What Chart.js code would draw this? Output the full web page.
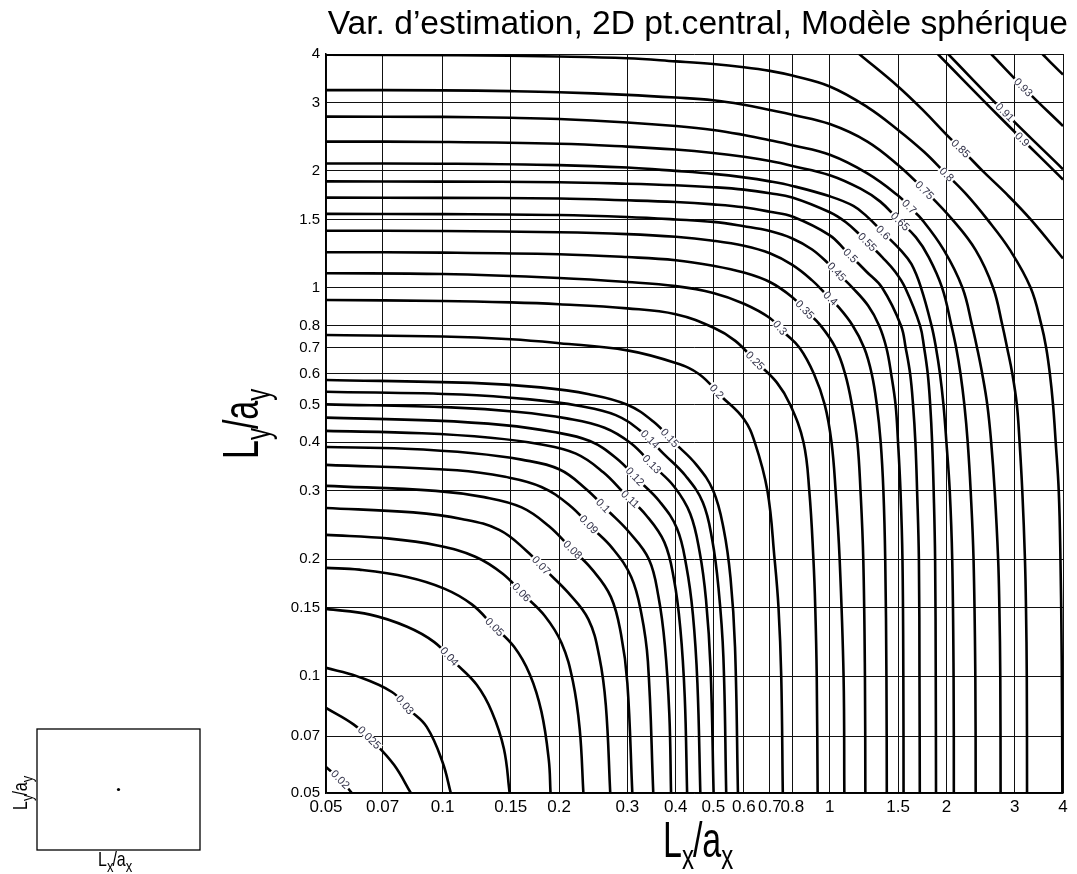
<!DOCTYPE html>
<html>
<head>
<meta charset="utf-8">
<script src="https://cdn.jsdelivr.net/npm/chart.js@4.4.1/dist/chart.umd.min.js"></script>
<style>
html,body{margin:0;padding:0;background:#fff;}
#wrap{position:relative;width:1077px;height:874px;overflow:hidden;}
#main{position:absolute;left:0;top:0;}
#inset{position:absolute;left:0;top:700px;}
</style>
</head>
<body>
<div id="wrap">
<canvas id="main" width="1077" height="874"></canvas>
<canvas id="inset" width="240" height="174"></canvas>
</div>
<script>
// ---------------- DATA ----------------
const chartTitle = "Var. d\u2019estimation, 2D pt.central, Mod\u00e8le sph\u00e9rique";

const xTickValues = [0.05,0.07,0.1,0.15,0.2,0.3,0.4,0.5,0.6,0.7,0.8,1,1.5,2,3,4];
const xTickLabels = ['0.05','0.07','0.1','0.15','0.2','0.3','0.4','0.5','0.6','0.7','0.8','1','1.5','2','3','4'];
const yTickValues = [0.05,0.07,0.1,0.15,0.2,0.3,0.4,0.5,0.6,0.7,0.8,1,1.5,2,3,4];
const yTickLabels = ['0.05','0.07','0.1','0.15','0.2','0.3','0.4','0.5','0.6','0.7','0.8','1','1.5','2','3','4'];

// Contour lines, upper-left branch [Lx/ax, Ly/ay] from the left/top edge to the diagonal
// (the chart is symmetric about the diagonal; the other branch is the same readings with axes swapped)
const c0020 = [[0.05,0.0583],[0.0543,0.0543]];
const c0025 = [[0.05,0.0828],[0.059,0.075],[0.067,0.067]];
const c0030 = [[0.05,0.105],[0.06,0.1],[0.074,0.091],[0.082,0.082]];
const c0040 = [[0.05,0.149],[0.065,0.144],[0.081,0.134],[0.095,0.1225],[0.108,0.108]];
const c0050 = [[0.05,0.19],[0.061,0.188],[0.081,0.18],[0.101,0.168],[0.119,0.153],[0.135,0.135]];
const c0060 = [[0.05,0.231],[0.073,0.226],[0.097,0.217],[0.1215,0.203],[0.143,0.1835],[0.162,0.162]];
const c0070 = [[0.05,0.271],[0.084,0.264],[0.112,0.254],[0.14,0.238],[0.164,0.211],[0.186,0.186]];
const c0080 = [[0.05,0.309],[0.096,0.3],[0.128,0.289],[0.16,0.272],[0.188,0.2435],[0.214,0.214]];
const c0090 = [[0.05,0.35],[0.109,0.339],[0.145,0.326],[0.18,0.307],[0.213,0.275],[0.242,0.242]];
const c0100 = [[0.05,0.389],[0.08,0.385],[0.12,0.375],[0.16,0.361],[0.2,0.341],[0.235,0.303],[0.267,0.267]];
const c0110 = [[0.05,0.428],[0.0885,0.422],[0.133,0.411],[0.177,0.396],[0.221,0.374],[0.26,0.335],[0.295,0.295]];
const c0120 = [[0.05,0.463],[0.096,0.455],[0.144,0.443],[0.192,0.426],[0.24,0.403],[0.282,0.363],[0.32,0.32]];
const c0130 = [[0.05,0.501],[0.105,0.492],[0.157,0.479],[0.209,0.461],[0.262,0.436],[0.307,0.397],[0.349,0.349]];
const c0140 = [[0.05,0.54],[0.112,0.531],[0.168,0.516],[0.224,0.497],[0.28,0.47],[0.328,0.424],[0.373,0.373]];
const c0150 = [[0.05,0.579],[0.119,0.569],[0.179,0.554],[0.239,0.532],[0.3,0.5],[0.35,0.4525],[0.398,0.398]];
const c0200 = [[0.05,0.756],[0.1,0.749],[0.15,0.737],[0.2,0.72],[0.3,0.69],[0.4,0.64],[0.46,0.599],[0.525,0.525]];
const c0250 = [[0.05,0.93],[0.1,0.925],[0.15,0.917],[0.2,0.907],[0.3,0.885],[0.4,0.855],[0.5,0.79],[0.57,0.73],[0.645,0.645]];
const c0300 = [[0.05,1.09],[0.1,1.085],[0.2,1.06],[0.3,1.035],[0.4,1.01],[0.5,0.97],[0.6,0.91],[0.7,0.836],[0.765,0.765]];
const c0350 = [[0.05,1.235],[0.1,1.232],[0.2,1.22],[0.3,1.2],[0.4,1.178],[0.5,1.14],[0.6,1.095],[0.7,1.035],[0.8,0.946],[0.87,0.87]];
const c0400 = [[0.05,1.403],[0.1,1.4],[0.2,1.39],[0.3,1.375],[0.4,1.353],[0.5,1.322],[0.6,1.283],[0.7,1.227],[0.8,1.145],[0.9,1.045],[0.97,0.97]];
const c0450 = [[0.05,1.55],[0.1,1.548],[0.2,1.54],[0.3,1.522],[0.4,1.5],[0.5,1.478],[0.6,1.44],[0.7,1.4],[0.8,1.34],[0.9,1.255],[1.0,1.145],[1.07,1.07]];
const c0500 = [[0.05,1.707],[0.1,1.704],[0.2,1.698],[0.3,1.68],[0.4,1.663],[0.5,1.64],[0.6,1.612],[0.7,1.57],[0.8,1.526],[1.0,1.365],[1.1,1.244],[1.17,1.17]];
const c0550 = [[0.05,1.88],[0.1,1.877],[0.2,1.87],[0.3,1.854],[0.4,1.837],[0.5,1.816],[0.6,1.79],[0.7,1.752],[0.8,1.709],[1.0,1.565],[1.1,1.475],[1.2,1.365],[1.28,1.28]];
const c0600 = [[0.05,2.09],[0.1,2.087],[0.2,2.07],[0.3,2.04],[0.4,2.0],[0.5,1.965],[0.6,1.925],[0.7,1.88],[0.8,1.83],[1.0,1.72],[1.15,1.625],[1.25,1.523],[1.38,1.38]];
const c0650 = [[0.05,2.38],[0.1,2.375],[0.2,2.35],[0.3,2.31],[0.4,2.27],[0.5,2.225],[0.6,2.175],[0.7,2.12],[0.8,2.06],[1.0,1.95],[1.2,1.8],[1.35,1.667],[1.5,1.5]];
const c0700 = [[0.05,2.76],[0.1,2.755],[0.15,2.74],[0.2,2.72],[0.3,2.665],[0.4,2.61],[0.5,2.55],[0.6,2.475],[0.7,2.4],[0.8,2.33],[1.0,2.2],[1.25,1.97],[1.5,1.728],[1.61,1.61]];
const c0750 = [[0.05,3.23],[0.1,3.225],[0.15,3.21],[0.2,3.19],[0.3,3.14],[0.4,3.09],[0.5,3.04],[0.6,2.96],[0.7,2.87],[0.8,2.79],[1.0,2.64],[1.25,2.38],[1.5,2.07],[1.77,1.77]];
const c0800 = [[0.05,3.985],[0.11,3.97],[0.2,3.94],[0.3,3.9],[0.4,3.83],[0.5,3.77],[0.6,3.7],[0.7,3.62],[0.8,3.52],[1.0,3.3],[1.25,2.92],[1.5,2.55],[1.75,2.24],[1.98,1.98]];
const c0850 = [[1.19,4.0],[1.5,3.3],[1.75,2.85],[2.0,2.48],[2.23,2.23]];
const c0900 = [[1.9,4.0],[2.75,2.75]];
const c0910 = [[2.02,4.0],[2.83,2.83]];
const c0930 = [[2.61,4.0],[3.22,3.22]];
const cCorner = [[3.54,4.0],[3.76,3.76]];

const contourLevels = ['0.02','0.025','0.03','0.04','0.05','0.06','0.07','0.08','0.09','0.1','0.11','0.12','0.13','0.14','0.15','0.2','0.25','0.3','0.35','0.4','0.45','0.5','0.55','0.6','0.65','0.7','0.75','0.8','0.85','0.9','0.91','0.93',''];
const contourBranches = [c0020,c0025,c0030,c0040,c0050,c0060,c0070,c0080,c0090,c0100,c0110,c0120,c0130,c0140,c0150,c0200,c0250,c0300,c0350,c0400,c0450,c0500,c0550,c0600,c0650,c0700,c0750,c0800,c0850,c0900,c0910,c0930,cCorner];
// where each level's inline label sits (data coordinates)
const labelX = [0.0538,0.065,0.079,0.104,0.1365,0.16,0.182,0.216,0.2376,0.26,0.304,0.313,0.3425,0.3425,0.386,0.509,0.642,0.742,0.861,1.01,1.04,1.136,1.242,1.37,1.513,1.606,1.755,1.977,2.18,3.12,2.82,3.15,null];
const labelY = [0.0536,0.0698,0.0834,0.112,0.134,0.165,0.195,0.211,0.245,0.275,0.284,0.326,0.346,0.406,0.41,0.54,0.649,0.787,0.877,0.945,1.10,1.215,1.302,1.38,1.48,1.62,1.786,1.933,2.29,2.38,2.84,3.265,null];

// inset sketch: central point of the block
const insetPointX = [0.5];
const insetPointY = [0.5];

// ---------------- BUILD ----------------
const FONT = "'Liberation Sans', Arial, Helvetica, sans-serif";

function fullCurve(branch){
  const pts = branch.map(p => ({x:p[0], y:p[1]}));
  const mirror = branch.slice(0, -1).reverse().map(p => ({x:p[1], y:p[0]}));
  return pts.concat(mirror);
}

const datasets = contourBranches.map((b, i) => ({
  label: contourLevels[i],
  data: fullCurve(b),
  showLine: true,
  borderColor: '#000',
  borderWidth: 2.6,
  pointRadius: 0,
  pointHoverRadius: 0,
  tension: 0.4,
  fill: false,
  clip: 0
}));

function tickLabelFor(values, labels, v){
  for (let i = 0; i < values.length; i++) {
    if (Math.abs(values[i] - v) / values[i] < 1e-6) return labels[i];
  }
  return '';
}

function drawSubText(ctx, parts, x, y, rot, size, subSize, stretch, subDrop){
  ctx.save();
  ctx.translate(x, y);
  ctx.rotate(rot);
  ctx.scale(1, stretch);
  ctx.fillStyle = '#000';
  ctx.textBaseline = 'alphabetic';
  ctx.textAlign = 'left';
  let cx = 0;
  parts.forEach(([t, sub]) => {
    ctx.font = (sub ? subSize : size) + 'px ' + FONT;
    ctx.fillText(t, cx, sub ? subDrop / stretch : 0);
    cx += ctx.measureText(t).width - (sub ? 1 : 0);
  });
  ctx.restore();
}

const contourLabelPlugin = {
  id: 'contourLabels',
  afterDatasetsDraw(chart){
    const ctx = chart.ctx, xs = chart.scales.x, ys = chart.scales.y;
    contourLevels.forEach((lvl, i) => {
      if (!lvl || labelX[i] == null) return;
      const pts = chart.getDatasetMeta(i).data;
      const tx = xs.getPixelForValue(labelX[i]), ty = ys.getPixelForValue(labelY[i]);
      let best = {d: Infinity};
      for (let j = 0; j < pts.length - 1; j++) {
        const a = pts[j], b = pts[j+1];
        const c1x = a.cp2x ?? a.x, c1y = a.cp2y ?? a.y, c2x = b.cp1x ?? b.x, c2y = b.cp1y ?? b.y;
        for (let k = 0; k <= 50; k++) {
          const t = k / 50, u = 1 - t;
          const px = u*u*u*a.x + 3*u*u*t*c1x + 3*u*t*t*c2x + t*t*t*b.x;
          const py = u*u*u*a.y + 3*u*u*t*c1y + 3*u*t*t*c2y + t*t*t*b.y;
          const d = (px-tx)*(px-tx) + (py-ty)*(py-ty);
          if (d < best.d) {
            const dx = 3*u*u*(c1x-a.x) + 6*u*t*(c2x-c1x) + 3*t*t*(b.x-c2x);
            const dy = 3*u*u*(c1y-a.y) + 6*u*t*(c2y-c1y) + 3*t*t*(b.y-c2y);
            best = {d, px, py, dx, dy};
          }
        }
      }
      let ang = Math.atan2(best.dy, best.dx);
      if (ang > Math.PI/2) ang -= Math.PI;
      if (ang < -Math.PI/2) ang += Math.PI;
      ctx.save();
      ctx.translate(best.px, best.py);
      ctx.rotate(ang);
      ctx.font = '11px ' + FONT;
      const w = ctx.measureText(lvl).width;
      ctx.fillStyle = '#fff';
      ctx.fillRect(-w/2 - 1.5, -4, w + 3, 8);
      ctx.fillStyle = '#33334a';
      ctx.textAlign = 'center';
      ctx.textBaseline = 'middle';
      ctx.fillText(lvl, 0, 0.5);
      ctx.restore();
    });
  }
};

const axisTitlePlugin = {
  id: 'axisTitles',
  afterDraw(chart){
    const ctx = chart.ctx;
    drawSubText(ctx, [['L',false],['x',true],['/a',false],['x',true]], 663, 857, 0, 34, 24, 1.45, 12);
    drawSubText(ctx, [['L',false],['y',true],['/a',false],['y',true]], 258, 459, -Math.PI/2, 34, 24, 1.45, 12);
  }
};

new Chart(document.getElementById('main'), {
  type: 'scatter',
  data: { datasets },
  options: {
    responsive: false,
    animation: false,
    events: [],
    layout: { padding: { left: 0, right: 9, top: 0, bottom: 0 } },
    plugins: {
      legend: { display: false },
      tooltip: { enabled: false },
      title: {
        display: true,
        text: chartTitle,
        align: 'end',
        color: '#000',
        font: { family: FONT, size: 33.6, weight: 'normal', lineHeight: 1.2 },
        padding: { top: 5, bottom: 8.7 }
      }
    },
    scales: {
      x: {
        type: 'logarithmic',
        position: 'bottom',
        min: 0.05, max: 4,
        afterBuildTicks: s => { s.ticks = xTickValues.map(v => ({ value: v })); },
        afterFit: s => { s.height = 81; },
        ticks: {
          autoSkip: false, maxRotation: 0, minRotation: 0, padding: 4,
          color: '#000', font: { family: FONT, size: 17 },
          callback: v => tickLabelFor(xTickValues, xTickLabels, v)
        },
        grid: { color: '#111', lineWidth: 1, drawTicks: false },
        border: { display: true, color: '#000', width: 1.5 }
      },
      y: {
        type: 'logarithmic',
        position: 'left',
        min: 0.05, max: 4,
        afterBuildTicks: s => { s.ticks = yTickValues.map(v => ({ value: v })); },
        afterFit: s => { s.width = 326; },
        ticks: {
          autoSkip: false, padding: 6,
          color: '#000', font: { family: FONT, size: 15 },
          callback: v => tickLabelFor(yTickValues, yTickLabels, v)
        },
        grid: { color: '#111', lineWidth: 1, drawTicks: false },
        border: { display: true, color: '#000', width: 1.5 }
      },
      y2: {
        type: 'linear',
        position: 'right',
        min: 0, max: 1,
        afterFit: s => { s.width = 5; },
        ticks: { display: false },
        grid: { display: false, drawTicks: false },
        border: { display: false }
      }
    }
  },
  plugins: [contourLabelPlugin, axisTitlePlugin]
});

// ---------------- INSET ----------------
const insetFramePlugin = {
  id: 'insetFrame',
  afterDraw(chart){
    const ctx = chart.ctx, a = chart.chartArea;
    ctx.save();
    ctx.strokeStyle = '#000';
    ctx.lineWidth = 1.3;
    ctx.strokeRect(a.left, a.top, a.right - a.left, a.bottom - a.top);
    ctx.restore();
    drawSubText(ctx, [['L',false],['x',true],['/a',false],['x',true]], 98, 166, 0, 16, 13, 1.3, 6);
    drawSubText(ctx, [['L',false],['y',true],['/a',false],['y',true]], 27, 110, -Math.PI/2, 16, 13, 1.3, 6);
  }
};

new Chart(document.getElementById('inset'), {
  type: 'scatter',
  data: {
    datasets: [{
      label: 'point central',
      data: insetPointX.map((x, i) => ({ x, y: insetPointY[i] })),
      pointRadius: 1.6,
      pointBackgroundColor: '#000',
      pointBorderWidth: 0
    }]
  },
  options: {
    responsive: false,
    animation: false,
    events: [],
    layout: { padding: { left: 37, top: 29, right: 40, bottom: 24 } },
    plugins: { legend: { display: false }, tooltip: { enabled: false } },
    scales: {
      x: { min: 0, max: 1, display: false },
      y: { min: 0, max: 1, display: false }
    }
  },
  plugins: [insetFramePlugin]
});
</script>
</body>
</html>
